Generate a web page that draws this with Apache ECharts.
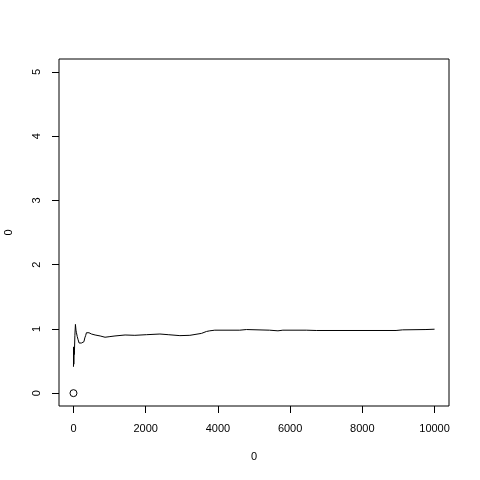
<!DOCTYPE html>
<html><head><meta charset="utf-8">
<script src="https://cdn.jsdelivr.net/npm/echarts@6/dist/echarts.min.js"></script>
<style>html,body{margin:0;padding:0;background:#fff}#c{width:480px;height:480px}</style>
</head><body><div id="c"></div>
<script>
const xTicks = [0, 2000, 4000, 6000, 8000, 10000];
const yTicks = [0, 1, 2, 3, 4, 5];
const xTitle = "0";
const yTitle = "0";
const pointX = [1];
const pointY = [0];
const lineX = [1,5,10,15,20,28,40,55,70,83,105,130,157,175,193,210,221,245,268,290,315,340,359,380,406,430,453,500,544,600,635,740,875,1010,1150,1430,1700,2027,2395,2624,2948,3224,3547,3685,3776,3914,4605,4790,5430,5663,5800,6447,6724,8934,9116,9762,10000];
const lineY = [0.41,0.72,0.45,0.7,0.6,0.66,0.9,1.07,0.98,0.94,0.88,0.83,0.78,0.8,0.76,0.79,0.78,0.8,0.81,0.8,0.86,0.9,0.94,0.93,0.92,0.94,0.94,0.92,0.91,0.905,0.9,0.89,0.87,0.88,0.89,0.905,0.9,0.91,0.92,0.91,0.895,0.9,0.93,0.96,0.97,0.98,0.98,0.99,0.98,0.97,0.98,0.98,0.975,0.975,0.985,0.99,0.995];

const font = 'Liberation Sans';
const chart = echarts.init(document.getElementById('c'), null, {renderer: 'canvas'});
chart.setOption({
  animation: false,
  backgroundColor: '#fff',
  grid: {left: 59, right: 31, top: 59, bottom: 74, show: true, borderColor: '#000', borderWidth: 1, backgroundColor: 'transparent', containLabel: false, outerBoundsMode: 'none'},
  xAxis: {
    type: 'value', min: -400, max: 10400,
    name: xTitle, nameLocation: 'middle', nameGap: 45,
    nameTextStyle: {fontFamily: font, fontSize: 11, color: '#000'},
    axisLine: {show: false, onZero: false},
    splitLine: {show: false},
    axisTick: {show: true, inside: false, length: 7, customValues: xTicks, lineStyle: {color: '#000'}},
    axisLabel: {customValues: xTicks, margin: 17, fontFamily: font, fontSize: 11, color: '#000', formatter: v => String(v)}
  },
  yAxis: {
    type: 'value', min: -0.2, max: 5.2,
    name: yTitle, nameLocation: 'middle', nameGap: 45,
    nameTextStyle: {fontFamily: font, fontSize: 11, color: '#000'},
    axisLine: {show: false, onZero: false},
    splitLine: {show: false},
    axisTick: {show: true, inside: false, length: 7, customValues: yTicks, lineStyle: {color: '#000'}},
    axisLabel: {customValues: yTicks, rotate: 90, margin: 17, fontFamily: font, fontSize: 11, color: '#000', formatter: v => String(v)}
  },
  series: [
    {type: 'line', data: lineX.map((x, i) => [x, lineY[i]]), showSymbol: false, symbol: 'none',
     lineStyle: {color: '#000', width: 1}, z: 2},
    {type: 'scatter', data: pointX.map((x, i) => [x, pointY[i]]), symbol: 'circle', symbolSize: 7,
     itemStyle: {color: 'rgba(255,255,255,0)', borderColor: '#000', borderWidth: 1, opacity: 1}, z: 5}
  ]
});
</script></body></html>
